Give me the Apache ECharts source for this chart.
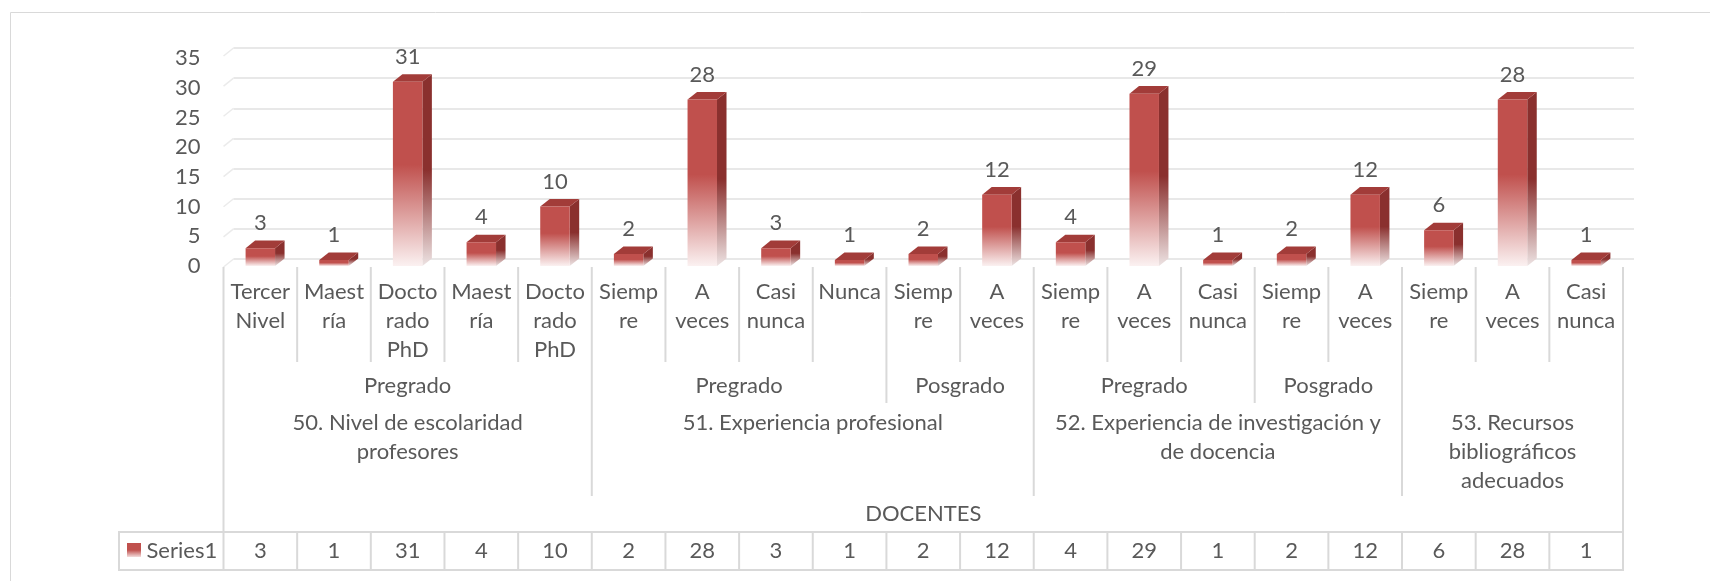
<!DOCTYPE html>
<html>
<head>
<meta charset="utf-8">
<script src="https://cdn.jsdelivr.net/npm/echarts@6/dist/echarts.min.js"></script>
<style>
  html, body { margin: 0; padding: 0; background: #fff; }
  #chart { width: 1710px; height: 581px; }
</style>
</head>
<body>
<div id="chart"></div>
<script>
// data
const categories = ['Tercer\nNivel', 'Maest\nría', 'Docto\nrado\nPhD', 'Maest\nría', 'Docto\nrado\nPhD',
  'Siemp\nre', 'A\nveces', 'Casi\nnunca', 'Nunca', 'Siemp\nre', 'A\nveces',
  'Siemp\nre', 'A\nveces', 'Casi\nnunca', 'Siemp\nre', 'A\nveces',
  'Siemp\nre', 'A\nveces', 'Casi\nnunca']
const values = [3, 1, 31, 4, 10, 2, 28, 3, 1, 2, 12, 4, 29, 1, 2, 12, 6, 28, 1]
const levelNames = ['Pregrado', 'Pregrado', 'Posgrado', 'Pregrado', 'Posgrado', '']
const levelSpans = [5, 4, 2, 3, 2, 3]
const groupNames = ['50. Nivel de escolaridad\nprofesores', '51. Experiencia profesional',
  '52. Experiencia de investigación y\nde docencia', '53. Recursos\nbibliográficos\nadecuados']
const groupSpans = [5, 6, 5, 3]
const yTicks = [0, 5, 10, 15, 20, 25, 30, 35]
const seriesName = 'Series1'
const axisTitle = 'DOCENTES'

const FONT = 'Lato, "Open Sans", sans-serif'
const FS = 22
const TXT = '#595959'
const LINE = '#D9D9D9'
const RED = '#C0504D'

const chart = echarts.init(document.getElementById('chart'))

const yMin = yTicks[0]
const yMax = yTicks[yTicks.length - 1]
const yStep = yTicks[1] - yTicks[0]

function fade(top, mid, bottom, at) {
  return new echarts.graphic.LinearGradient(0, 0, 0, 1, [
    { offset: 0, color: top },
    { offset: at, color: mid },
    { offset: 1, color: bottom }
  ])
}

function renderBar(params, api) {
  const i = api.value(0)
  const v = api.value(1)
  const t = api.coord([i, v])
  const b = api.coord([i, 0])
  const bw = api.size([1, 0])[0] * 0.4
  const dx = 9.5, dy = 7.6
  const x0 = t[0] - bw / 2, x1 = t[0] + bw / 2
  const yt = t[1], yb = b[1]
  return {
    type: 'group',
    children: [
      { type: 'polygon', shape: { points: [[x1, yt], [x1 + dx, yt - dy], [x1 + dx, yb - dy], [x1, yb]] },
        style: { fill: fade('#8A302E', '#8A302E', '#EDE3E3', 0.5) } },
      { type: 'polygon', shape: { points: [[x0, yt], [x1, yt], [x1 + dx, yt - dy], [x0 + dx, yt - dy]] },
        style: { fill: '#A23C39' } },
      { type: 'rect', shape: { x: x0, y: yt, width: bw, height: yb - yt },
        style: { fill: fade(RED, RED, '#FBF1F1', 0.45) } },
      { type: 'text', x: t[0], y: yt - 25,
        style: { text: String(v), fill: TXT, fontSize: FS, fontFamily: FONT, align: 'center', verticalAlign: 'middle' } }
    ]
  }
}

chart.setOption({
  animation: false,
  grid: [
    { left: 223.5, right: 87, top: 58, height: 208 },
    { left: 233.5, right: 76, top: 48, height: 211 }
  ],
  xAxis: [
    { gridIndex: 0, type: 'category', data: categories,
      axisLine: { show: false }, axisTick: { show: false },
      axisLabel: { interval: 0, color: TXT, fontSize: FS, fontFamily: FONT, lineHeight: 28.7, margin: 12 } },
    { gridIndex: 1, type: 'category', data: categories, show: false }
  ],
  yAxis: [
    { gridIndex: 0, type: 'value', min: yMin, max: yMax, interval: yStep,
      axisLine: { show: false }, axisTick: { show: false }, splitLine: { show: false },
      axisLabel: { color: TXT, fontSize: FS, fontFamily: FONT, margin: 23 } },
    { gridIndex: 1, type: 'value', min: yMin, max: yMax, interval: yStep,
      axisLine: { show: false }, axisTick: { show: false }, axisLabel: { show: false },
      splitLine: { lineStyle: { color: '#E8E8E8', width: 2 } } }
  ],
  series: [{
    name: seriesName,
    type: 'custom',
    xAxisIndex: 0,
    yAxisIndex: 0,
    data: values.map((v, i) => [i, v]),
    renderItem: renderBar
  }]
})

function cumulative(spans) {
  const out = [0]
  spans.forEach(s => out.push(out[out.length - 1] + s))
  return out
}

function buildGraphic() {
  const cx = i => chart.convertToPixel({ xAxisIndex: 0 }, i)
  const w = cx(1) - cx(0)
  const edge = k => cx(0) - w / 2 + k * w
  const y0 = chart.convertToPixel({ yAxisIndex: 0 }, 0)
  const n = categories.length
  const els = []
  const line = (x1, y1, x2, y2, color, lw) => els.push({ type: 'line', silent: true,
    shape: { x1, y1, x2, y2 }, style: { stroke: color || LINE, lineWidth: lw || 2 } })
  const text = (x, y, t, align, va) => els.push({ type: 'text', x, y, silent: true,
    style: { text: t, fill: TXT, fontSize: FS, fontFamily: FONT, align: align || 'center',
      verticalAlign: va || 'middle', lineHeight: 29 } })

  // chart area border
  els.push({ type: 'rect', silent: true, shape: { x: 10.5, y: 12.5, width: 1720, height: 620 },
    style: { fill: null, stroke: LINE, lineWidth: 1 } })

  // little side-wall edges at the left of the back grid lines
  const backLeft = chart.convertToPixel({ xAxisIndex: 1 }, 0) - w / 2
  yTicks.forEach(t => {
    const yb = chart.convertToPixel({ yAxisIndex: 1 }, t)
    line(backLeft - 10, yb + 8, backLeft, yb, '#EBEBEB', 1.5)
  })

  const gEdges = cumulative(groupSpans)
  const lEdges = cumulative(levelSpans)

  // category dividers
  for (let k = 1; k < n; k++) {
    let y2 = y0 + 96
    if (gEdges.includes(k)) y2 = y0 + 230
    else if (lEdges.includes(k)) y2 = y0 + 137
    line(edge(k), y0 + 1, edge(k), y2)
  }
  line(edge(0), y0 + 1, edge(0), y0 + 266)
  line(edge(n), y0 + 1, edge(n), y0 + 304)

  // second level labels
  levelNames.forEach((name, j) => {
    if (!name) return
    text((edge(lEdges[j]) + edge(lEdges[j + 1])) / 2, y0 + 120, name)
  })
  // group labels
  groupNames.forEach((name, j) => {
    text((edge(gEdges[j]) + edge(gEdges[j + 1])) / 2, y0 + 142.5, name, 'center', 'top')
  })
  text((edge(0) + edge(n)) / 2, y0 + 248, axisTitle)

  // data table
  const tTop = y0 + 266, tBot = y0 + 304
  const tLeft = 119
  els.push({ type: 'rect', silent: true, shape: { x: tLeft, y: tTop, width: edge(n) - tLeft, height: tBot - tTop },
    style: { fill: null, stroke: LINE, lineWidth: 2 } })
  for (let k = 0; k < n; k++) line(edge(k), tTop, edge(k), tBot)
  values.forEach((v, i) => text(cx(i), (tTop + tBot) / 2, String(v)))
  els.push({ type: 'rect', silent: true, shape: { x: 127, y: tTop + 11, width: 14, height: 14 },
    style: { fill: fade(RED, RED, '#F3DCDC', 0.5) } })
  text(146.5, (tTop + tBot) / 2, seriesName, 'left')

  chart.setOption({ graphic: els })
}

buildGraphic()
window.addEventListener('resize', () => { chart.resize(); buildGraphic() })
</script>
</body>
</html>
